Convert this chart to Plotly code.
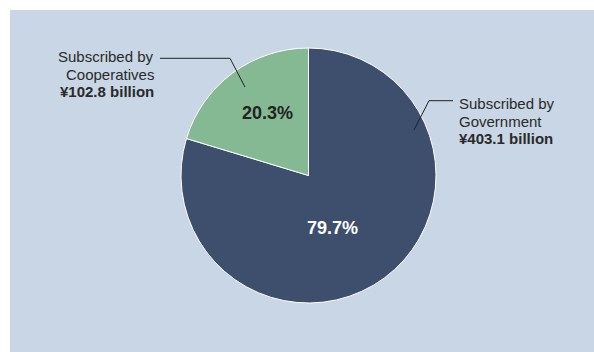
import plotly.graph_objects as go

# ---- data ----
labels = ["Subscribed by Government", "Subscribed by Cooperatives"]
names = ["Government", "Cooperatives"]
amounts = [403.1, 102.8]  # ¥ billion
colors = ["#3e4f6e", "#85b994"]
pct_text_colors = ["#ffffff", "#222222"]

W, H = 594, 352
FONT = "Liberation Sans, Arial, sans-serif"


def px(x, y):
    return x / W, 1 - y / H


total = sum(amounts)
pcts = [a / total * 100 for a in amounts]

fig = go.Figure()
fig.add_trace(go.Pie(
    labels=labels,
    values=amounts,
    sort=False,
    direction="clockwise",
    rotation=0,
    marker=dict(colors=colors, line=dict(color="#ffffff", width=1)),
    textinfo="none",
    showlegend=False,
    hoverinfo="label+value+percent",
    domain=dict(x=[181 / W, 436 / W], y=[49 / H, 304 / H]),
))

# background panel
fig.add_shape(type="rect", xref="paper", yref="paper", layer="below",
              x0=10 / W, x1=1.0, y0=0.0, y1=1 - 10 / H,
              fillcolor="#c9d6e5", line=dict(width=0))


# callout lines
def path(points):
    s = ""
    for i, (x, y) in enumerate(points):
        X, Y = px(x, y)
        s += ("M" if i == 0 else "L") + f" {X} {Y} "
    return s


fig.add_shape(type="path", xref="paper", yref="paper",
              path=path([(453, 100.7), (429, 100.7), (414, 130)]),
              line=dict(color="#222222", width=1))
fig.add_shape(type="path", xref="paper", yref="paper",
              path=path([(160, 58.3), (230, 58.3), (245, 87)]),
              line=dict(color="#222222", width=1))

# percentage labels inside slices
pct_pos = [(333, 228), (267.5, 113)]
for p, c, (x, y) in zip(pcts, pct_text_colors, pct_pos):
    X, Y = px(x, y)
    fig.add_annotation(xref="paper", yref="paper", x=X, y=Y,
                       text=f"<b>{p:.1f}%</b>", showarrow=False,
                       xanchor="center", yanchor="middle",
                       font=dict(family=FONT, size=18, color=c))

# callout text
callouts = [
    dict(x=457, ys=[103, 121, 138.5], anchor="left"),
    dict(x=156, ys=[56.7, 74, 91.7], anchor="right"),
]
for name, amt, co in zip(names, amounts, callouts):
    lines = ["Subscribed by", name, f"<b>¥{amt:.1f} billion</b>"]
    for t, y in zip(lines, co["ys"]):
        X, Y = px(co["x"], y)
        fig.add_annotation(xref="paper", yref="paper", x=X, y=Y, text=t,
                           showarrow=False, xanchor=co["anchor"], yanchor="middle",
                           font=dict(family=FONT, size=15, color="#2a2a2a"))

fig.update_layout(
    width=W, height=H,
    margin=dict(l=0, r=0, t=0, b=0),
    paper_bgcolor="#ffffff",
)

fig.write_html("out.html")
